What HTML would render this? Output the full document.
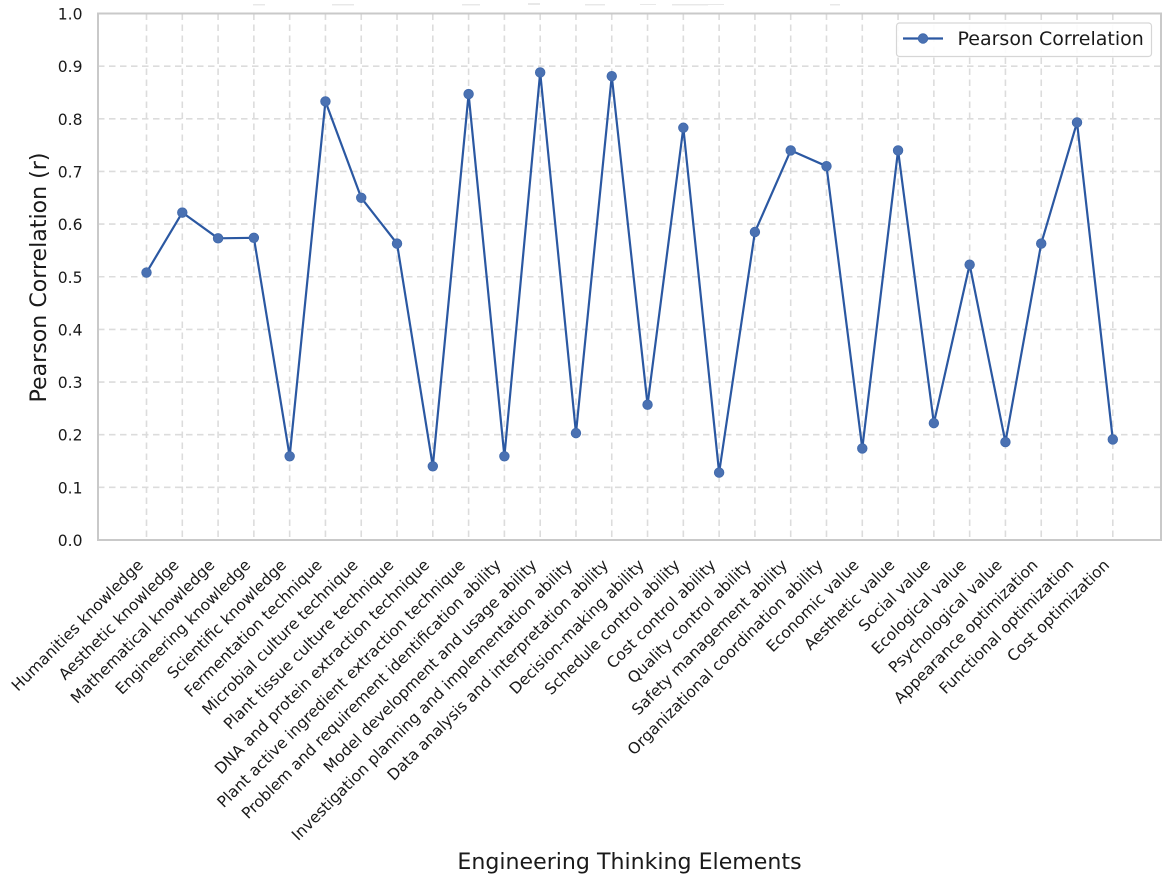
<!DOCTYPE html>
<html lang="en">
<head>
<meta charset="utf-8">
<title>Pearson Correlation of Engineering Thinking Elements</title>
<style>
html,body{margin:0;padding:0;background:#fff;width:1169px;height:882px;overflow:hidden}
svg{display:block;font-family:"DejaVu Sans","Liberation Sans",sans-serif}
</style>
</head>
<body>
<svg id="chart" width="1169" height="882" viewBox="0 0 1169 882" xmlns="http://www.w3.org/2000/svg">
  <rect x="0" y="0" width="1169" height="882" fill="#fff"/>
  <g id="artifacts" fill="#e8e8e8">
    <rect x="253" y="4" width="12" height="1.5"/><rect x="332" y="4" width="22" height="1.5"/>
    <rect x="462" y="4" width="18" height="1.5"/><rect x="528" y="3" width="12" height="2"/>
    <rect x="585" y="4" width="20" height="1.5"/>
    <rect x="672" y="4" width="36" height="1.5"/><rect x="640" y="4" width="16" height="1"/>
    <rect x="700" y="4" width="24" height="1"/><rect x="830" y="4" width="10" height="1.5"/>
  </g>
  <g id="grid"></g>
  <g id="series"></g>
  <rect x="98" y="13.5" width="1063" height="526.5" fill="none" stroke="#c9c9c9" stroke-width="2"/>
  <g id="yticks"></g>
  <g id="xticks"></g>
  <text transform="translate(46,277.5) rotate(-90)" text-anchor="middle" font-size="22.1" fill="#1a1a1a">Pearson Correlation (r)</text>
  <text x="629.5" y="869" text-anchor="middle" font-size="22.1" fill="#1a1a1a">Engineering Thinking Elements</text>
  <g>
    <rect x="896.5" y="23" width="255" height="33.5" rx="3" fill="#fff" fill-opacity="0.9" stroke="#d6d6d6" stroke-width="1.2"/>
    <line x1="903" y1="38.5" x2="943" y2="38.5" stroke="#2b58a2" stroke-width="2.2"/>
    <circle cx="923" cy="38.5" r="4.8" fill="#4a71b2" stroke="#3f68ab" stroke-width="0.8"/>
    <text x="957.5" y="45" font-size="19" fill="#1a1a1a">Pearson Correlation</text>
  </g>
</svg>
<script>
const categories = [
  "Humanities knowledge","Aesthetic knowledge","Mathematical knowledge","Engineering knowledge","Scientific knowledge",
  "Fermentation technique","Microbial culture technique","Plant tissue culture technique","DNA and protein extraction technique","Plant active ingredient extraction technique",
  "Problem and requirement identification ability","Model development and usage ability","Investigation planning and implementation ability","Data analysis and interpretation ability","Decision-making ability",
  "Schedule control ability","Cost control ability","Quality control ability","Safety management ability","Organizational coordination ability",
  "Economic value","Aesthetic value","Social value","Ecological value","Psychological value",
  "Appearance optimization","Functional optimization","Cost optimization"
];
const pearsonValues = [
  0.508,0.622,0.573,0.574,0.159,
  0.833,0.650,0.563,0.140,0.847,
  0.159,0.888,0.203,0.881,0.257,
  0.783,0.128,0.585,0.740,0.710,
  0.174,0.740,0.222,0.523,0.186,
  0.563,0.793,0.191
];
const yTickValues = [0,0.1,0.2,0.3,0.4,0.5,0.6,0.7,0.8,0.9,1.0];

const NS = "http://www.w3.org/2000/svg";
const plotLeft = 98, plotRight = 1161, plotTop = 13.5, plotBottom = 540;
const firstX = 146.5, lastX = 1112.8;
function xScale(i){ return firstX + (lastX - firstX) * i / (categories.length - 1); }
function yScale(v){ return plotBottom - (plotBottom - plotTop) * v; }
function make(tag, attrs, parent){
  const el = document.createElementNS(NS, tag);
  for (const k in attrs) el.setAttribute(k, attrs[k]);
  parent.appendChild(el);
  return el;
}
const gridG = document.getElementById("grid");
const seriesG = document.getElementById("series");
const yG = document.getElementById("yticks");
const xG = document.getElementById("xticks");
const gridStyle = {stroke:"#dcdcdc","stroke-width":1.6,"stroke-dasharray":"6.5 4.5",fill:"none"};

yTickValues.forEach(function(v){
  const y = yScale(v);
  const line = make("line", Object.assign({x1:plotLeft,x2:plotRight,y1:y,y2:y}, gridStyle), gridG);
  
  
  const t = make("text", {x:82.5,y:y+6,"text-anchor":"end","font-size":15.6,fill:"#1a1a1a"}, yG);
  
  
  t.textContent = v.toFixed(1);
});

categories.forEach(function(c,i){
  const x = xScale(i);
  const line = make("line", Object.assign({x1:x,x2:x,y1:plotTop,y2:plotBottom}, gridStyle), gridG);
  
  
  const ax = x - 2.5, ay = 566;
  const t = make("text", {transform:"translate("+ax+","+ay+") rotate(-45)","text-anchor":"end","font-size":15.6,fill:"#1a1a1a"}, xG);
  
  
  t.textContent = c;
});

const pts = pearsonValues.map(function(v,i){ return xScale(i).toFixed(2)+","+yScale(v).toFixed(2); }).join(" ");
const seriesLine = make("polyline", {points:pts,fill:"none",stroke:"#2b58a2","stroke-width":2.2,"stroke-linejoin":"round"}, seriesG);


pearsonValues.forEach(function(v,i){
  const p = make("circle", {cx:xScale(i),cy:yScale(v),r:4.8,fill:"#4a71b2",stroke:"#3f68ab","stroke-width":0.8}, seriesG);
  
  
});
</script>
</body>
</html>
